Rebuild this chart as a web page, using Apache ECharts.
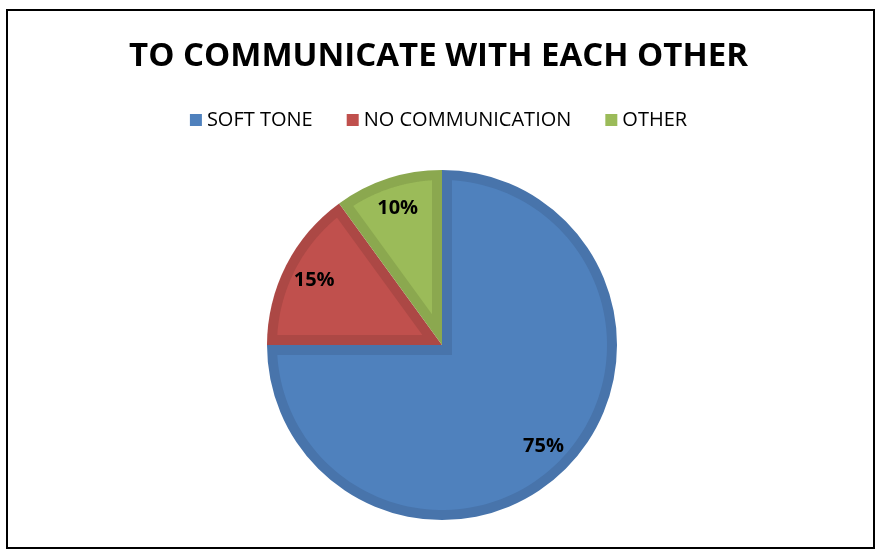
<!DOCTYPE html>
<html>
<head>
  <meta charset="utf-8">
</head>
<body style="margin: 0; background: #fff">
  <div id="container" style="width: 877px; height: 550px"></div>
  <script src="https://cdn.jsdelivr.net/npm/echarts@6/dist/echarts.min.js"></script>
  <script>
    // chart data
    var titleText = 'TO COMMUNICATE WITH EACH OTHER';
    var categories = ['SOFT TONE', 'NO COMMUNICATION', 'OTHER'];
    var values = [75, 15, 10];
    var lightColors = ['#4F81BD', '#C0504D', '#9BBB59'];
    var darkColors = ['#4874AB', '#AC4845', '#8BA84F'];

    var chart = echarts.init(document.getElementById('container'), null, { renderer: 'canvas' });

    var total = values.reduce(function (a, b) { return a + b; }, 0);
    // cumulative [start, end] in percent for each slice
    var spans = [];
    var acc = 0;
    values.forEach(function (v) {
      var p = v / total * 100;
      spans.push([acc, acc + p]);
      acc += p;
    });

    var pieData = categories.map(function (name, i) {
      return { name: name, value: values[i], itemStyle: { color: darkColors[i] } };
    });

    var band = 10; // width of the darker inner rim

    // lighter inner face of each slice, inset by the rim width
    function renderInset(params, api) {
      var i = params.dataIndex;
      var a0 = api.value(0), a1 = api.value(1);
      var c = api.coord([0, 0]);
      var top = api.coord([1, 0]);
      var R = Math.sqrt(Math.pow(top[0] - c[0], 2) + Math.pow(top[1] - c[1], 2));
      var Rin = R - band;
      function dir(v) {
        var p = api.coord([1, v]);
        return [(p[0] - c[0]) / R, (p[1] - c[1]) / R];
      }
      var theta = (a1 - a0) / 100 * Math.PI * 2;
      var m = dir((a0 + a1) / 2);
      var k = band / Math.sin(theta / 2);
      var pts = [[c[0] + m[0] * k, c[1] + m[1] * k]];
      var delta = Math.asin(band / Rin) / (Math.PI * 2) * 100;
      var s = a0 + delta, e = a1 - delta;
      var n = 120;
      for (var j = 0; j <= n; j++) {
        var v = s + (e - s) * j / n;
        pts.push(api.coord([Rin / R, v]));
      }
      return {
        type: 'polygon',
        shape: { points: pts },
        style: { fill: lightColors[i] }
      };
    }

    var option = {
      backgroundColor: '#fff',
      animation: false,
      title: {
        text: titleText,
        left: 'center',
        top: 35,
        textStyle: {
          fontFamily: 'Open Sans',
          fontWeight: 'bold',
          fontSize: 33,
          color: '#000'
        }
      },
      legend: {
        top: 105,
        left: 'center',
        icon: 'rect',
        itemWidth: 12,
        itemHeight: 12,
        itemGap: 34,
        textStyle: { fontFamily: 'Open Sans', fontSize: 20, color: '#000' },
        data: categories.map(function (name, i) {
          return { name: name, itemStyle: { color: lightColors[i] } };
        })
      },
      polar: { center: [442, 345], radius: 175 },
      angleAxis: {
        type: 'value', min: 0, max: 100, startAngle: 90, clockwise: true,
        show: false
      },
      radiusAxis: { type: 'value', min: 0, max: 1, show: false },
      graphic: [
        {
          type: 'rect',
          shape: { x: 7, y: 10, width: 867, height: 538 },
          style: { fill: 'none', stroke: '#000', lineWidth: 2 },
          z: 100
        }
      ],
      series: [
        {
          name: 'base',
          type: 'pie',
          center: [442, 345],
          radius: [0, 175],
          startAngle: 90,
          clockwise: true,
          silent: true,
          label: { show: false },
          labelLine: { show: false },
          data: pieData,
          z: 1
        },
        {
          name: 'inset',
          type: 'custom',
          coordinateSystem: 'polar',
          renderItem: renderInset,
          data: spans,
          silent: true,
          z: 2
        },
        {
          name: 'labels',
          type: 'pie',
          center: [442, 345],
          radius: [106, 175],
          startAngle: 90,
          clockwise: true,
          silent: true,
          legendHoverLink: false,
          itemStyle: { color: 'transparent' },
          label: {
            show: true,
            position: 'inside',
            formatter: '{c}%',
            fontFamily: 'Open Sans',
            fontWeight: 'bold',
            fontSize: 20,
            color: '#000'
          },
          labelLine: { show: false },
          data: categories.map(function (name, i) {
            return { name: name + ' ', value: values[i] };
          }),
          z: 3
        }
      ]
    };

    chart.setOption(option);
  </script>
</body>
</html>
